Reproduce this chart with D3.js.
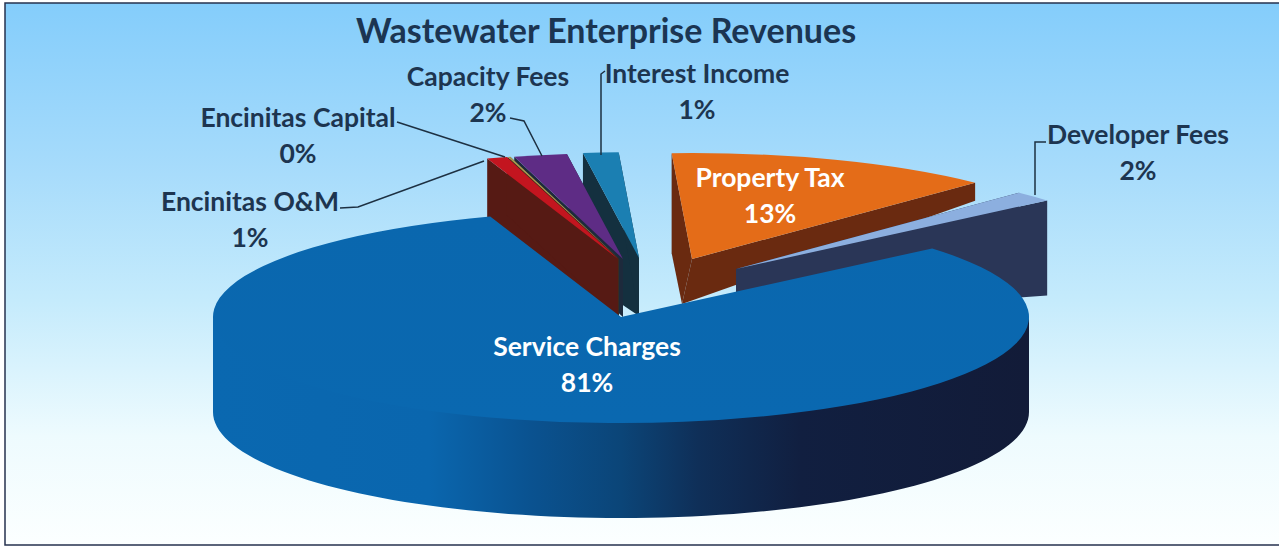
<!DOCTYPE html>
<html><head><meta charset="utf-8">
<script src="https://cdnjs.cloudflare.com/ajax/libs/d3/7.9.0/d3.min.js"></script>
<style>html,body{margin:0;padding:0;background:#fff;overflow:hidden}svg{display:block}text{font-family:Lato,"Noto Sans",sans-serif;font-weight:700}</style>
</head><body><svg id="c" width="1281" height="546"></svg>
<script>
const categories = ["Service Charges","Encinitas O&M","Encinitas Capital","Capacity Fees","Interest Income","Property Tax","Developer Fees"];
const shares = [81,0.8,0.1,2.1,1.4,13,1.6];
const faceColors = ["#0a62a9","#c3151f","#a89a50","#5e2c85","#1b7fb2","#e46c18","#8cafdf"];
const wallColors = ["#0b3a68","#561a14","#3a2a20","#1d2a3c","#14303f","#6a2a10","#2a3657"];
const titleText = "Wastewater Enterprise Revenues";
const explode = [[0,0],[-3,-58],[-2,-58],[2,-58],[18,-59],[71,-58],[115,-48]];
const wallDepth = [[95,95,95,0],[60,58,58,0],[60,58,58,0],[62,58,50,0],[125,58,50,0],[100,45,18,-10],[60,50,95,0]];
const drawOrder = [5,6,4,3,2,1,0];
const labelAt = [[587,347,"#fff"],[250,202,"#1d3550"],[298,118,"#1d3550"],[488,77,"#1d3550"],[697,74,"#1d3550"],[770,178,"#fff"],[1138,135,"#1d3550"]];
const leaders = [null,[[340,208],[358,207],[484,161]],[[397,122],[505,157]],[[510,118],[524,121],[542,156]],[[605,71],[601,74],[601,155]],null,[[1046,142],[1035,142],[1035,195]]];

const W=1281,H=546,cx=621,cy=317,rx=408,ry=106;
const svg=d3.select("#c");
const defs=svg.append("defs");
function grad(id,dir,stops){
  const g=defs.append("linearGradient").attr("id",id).attr("x1",0).attr("y1",0).attr("x2",dir=="h"?1:0).attr("y2",dir=="h"?0:1);
  stops.forEach(s=>g.append("stop").attr("offset",s[0]).attr("stop-color",s[1]));
}
grad("bg","v",[[0,"#84cdfb"],[.3,"#a6dbfb"],[.55,"#c5ebfc"],[.8,"#eefbfe"],[1,"#fcffff"]]);
grad("side","h",[[0,"#0a68b0"],[.265,"#0a66ae"],[.39,"#0a5290"],[.5,"#0b4578"],[.595,"#0f2f58"],[.72,"#111f40"],[1,"#121b38"]]);
grad("top","v",[[0,"#0a67ae"],[1,"#0a68b0"]]);

svg.append("rect").attr("width",W).attr("height",H).attr("fill","#fff");
svg.append("rect").attr("x",5).attr("y",3).attr("width",W-7).attr("height",H-4).attr("fill","url(#bg)");
svg.append("path").attr("d",d3.line()([[W-2,3],[5,3],[5,H-1],[W-2,H-1]])).attr("fill","none").attr("stroke","#26324f").attr("stroke-width",1.5);

const slices=d3.pie().value(d=>d).sort(null).startAngle(49.7*Math.PI/180).endAngle((49.7+360)*Math.PI/180)(shares);
const arc=d3.arc().innerRadius(0).outerRadius(rx);
const yScale=ry/rx;
const pt=(i,t)=>[cx+explode[i][0]+rx*Math.sin(t),cy+explode[i][1]-ry*Math.cos(t)];
const apex=i=>[cx+explode[i][0],cy+explode[i][1]];
const line=d3.line();

drawOrder.forEach(i=>{
  const s=slices[i],d=wallDepth[i];
  const g=svg.append("g");
  if(i===0){
    const a=d3.range(90,270.5,2).map(x=>x*Math.PI/180);
    const low=a.map(t=>{const p=pt(0,t);return [p[0],p[1]-4];});
    const up=a.slice().reverse().map(t=>{const p=pt(0,t);return [p[0],p[1]+d[0]];});
    g.append("path").attr("d",line(low.concat(up))+"Z").attr("fill","url(#side)");
  } else {
    const st=pt(i,s.startAngle),en=pt(i,s.endAngle),ap=apex(i),ab=[ap[0]+d[3],ap[1]+d[1]];
    [[st,ap,ab,[st[0],st[1]+d[0]]],[ap,en,[en[0],en[1]+d[2]],ab]].forEach(q=>{
      g.append("path").attr("d",line(q)+"Z").attr("fill",wallColors[i]);
    });
  }
  g.append("path").attr("d",arc(s))
    .attr("transform",`translate(${apex(i)}) scale(1,${yScale})`)
    .attr("fill",i===0?"url(#top)":faceColors[i]);
});

leaders.forEach(l=>{ if(l) svg.append("path").attr("d",line(l)).attr("fill","none").attr("stroke","#1d3042").attr("stroke-width",1.5); });

const pct=d3.format(".0%");
categories.forEach((c,i)=>{
  const [x,y,col]=labelAt[i];
  svg.append("text").attr("x",x).attr("y",y+9).attr("text-anchor","middle").attr("fill",col).attr("font-size",26.5).text(c);
  svg.append("text").attr("x",x).attr("y",y+45).attr("text-anchor","middle").attr("fill",col).attr("font-size",26.5).text(pct(shares[i]/100));
});
svg.append("text").attr("x",606).attr("y",43).attr("text-anchor","middle").attr("fill","#1b3552").attr("font-size",34).text(titleText);
</script></body></html>
